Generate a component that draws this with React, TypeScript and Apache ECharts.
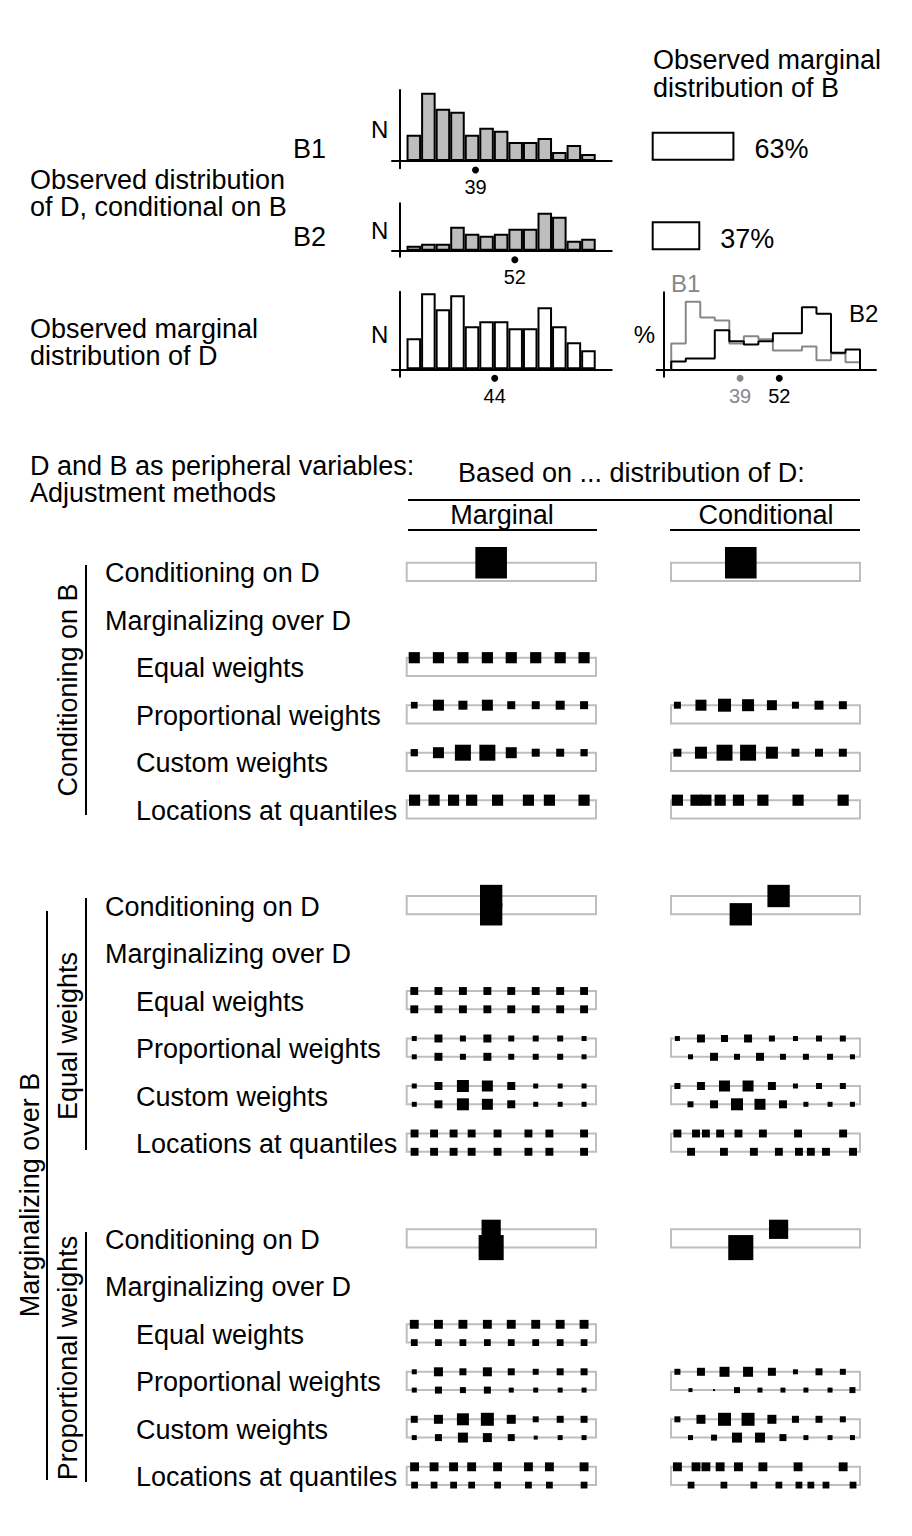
import React, { useEffect, useRef } from "react";
import * as echarts from "echarts";

const FONT = '"Liberation Sans", Arial, sans-serif';

// ---------- data: observed distributions ----------
const BIN_EDGES = [15, 20, 25, 30, 35, 40, 45, 50, 55, 60, 65, 70, 75, 80];
const B1_COUNTS = [26, 68, 52, 49, 26, 33, 30, 19, 19, 23, 9, 16, 7];
const B2_COUNTS = [5, 7, 7, 24, 17, 15, 17, 22, 22, 38, 34, 10, 12];
const D_COUNTS = [31, 76, 60, 74, 43, 48, 48, 41, 41, 62, 43, 27, 19];
const B1_PCT = [6.9, 18.0, 13.8, 13.0, 6.9, 8.8, 8.0, 5.0, 5.0, 6.1, 2.4, 4.2, 1.9];
const B2_PCT = [2.1, 2.9, 2.9, 10.4, 7.5, 6.6, 7.5, 9.6, 9.6, 16.5, 14.8, 4.4, 5.3];
const B_NAMES = ["B1", "B2"];
const B_SHARE = [63, 37];
const MEAN_LABEL = { B1: 39, B2: 52, D: 44 };
const MEAN_AT = { B1: 38.7, B2: 52.2, D: 45.3 };

// ---------- data: adjustment-method locations (D scale) ----------
const POS_MARG = [17.6, 25.9, 34.3, 42.7, 50.9, 59.3, 67.7, 75.9];
const POS_MARG_Q = [17.7, 24.4, 31.1, 37.3, 46.2, 56.8, 64.0, 75.9];
const POS_B1 = [17.2, 25.3, 33.4, 41.5, 49.7, 57.8, 65.9, 74.1];
const POS_B2 = [21.7, 29.8, 37.7, 45.6, 53.5, 61.4, 69.7, 77.4];
const POS_B1_Q = [17.2, 23.6, 27.0, 31.9, 38.2, 46.6, 58.7, 74.2];
const POS_B2_Q = [21.9, 33.2, 43.5, 52.1, 59.0, 63.1, 68.3, 77.6];

// ---------- data: weights (%) ----------
const S1_EQUAL = [12.5, 12.5, 12.5, 12.5, 12.5, 12.5, 12.5, 12.5];
const S1_MARG_PROP = [4.5, 12.1, 8.1, 12.1, 6.4, 6.4, 8.1, 6.4];
const S1_COND_PROP = [4.9, 12.1, 16.9, 14.4, 10, 4.9, 8.1, 6.4];
const S1_MARG_CUSTOM = [5.3, 12.1, 25.6, 25.6, 12.1, 6.4, 6.4, 5.3];
const S1_COND_CUSTOM = [6.4, 14.4, 25.6, 25.6, 14.4, 6.4, 6.4, 6.4];
const S1_QUANT = [12.5, 12.5, 12.5, 12.5, 12.5, 12.5, 12.5, 12.5];

const S2_EQUAL = [6.25, 6.25, 6.25, 6.25, 6.25, 6.25, 6.25, 6.25];
const S2_MARG_PROP = [2.5, 6.4, 3.6, 6.4, 3.6, 3.6, 3.6, 2.5];
const S2_COND_PROP_TOP = [2.5, 6.4, 4.9, 6.4, 3.6, 2.5, 3.6, 3.6];
const S2_COND_PROP_BOT = [2.5, 6.4, 3.6, 6.4, 3.6, 3.6, 3.6, 2.5];
const S2_MARG_CUSTOM = [2.5, 6.4, 14.4, 12.1, 6.4, 2.5, 2.5, 2.5];
const S2_COND_CUSTOM_TOP = [3.6, 6.4, 12.1, 12.1, 6.4, 2.5, 3.6, 3.6];
const S2_COND_CUSTOM_BOT = [3.6, 6.4, 14.4, 12.1, 6.4, 2.5, 2.5, 2.5];
const S2_QUANT = [6.25, 6.25, 6.25, 6.25, 6.25, 6.25, 6.25, 6.25];

const S3_EQUAL_TOP = [7.9, 7.9, 7.9, 7.9, 7.9, 7.9, 7.9, 7.9];
const S3_EQUAL_BOT = [4.6, 4.6, 4.6, 4.6, 4.6, 4.6, 4.6, 4.6];
const S3_MARG_PROP_TOP = [2.5, 8.1, 4.9, 8.1, 4.9, 3.6, 4.9, 4.9];
const S3_MARG_PROP_BOT = [2.5, 4.9, 3.6, 4.9, 2.5, 2.5, 2.5, 2.5];
const S3_COND_PROP_TOP = [3.6, 6.4, 10, 10, 6.4, 2.5, 4.9, 3.6];
const S3_COND_PROP_BOT = [1.6, 0.4, 3.6, 2.5, 2.5, 2.5, 2.5, 3.6];
const S3_MARG_CUSTOM_TOP = [4.9, 8.1, 14.4, 16.9, 8.1, 3.6, 4.9, 4.9];
const S3_MARG_CUSTOM_BOT = [2.5, 4.9, 10, 8.1, 4.9, 1.6, 2.5, 2.5];
const S3_COND_CUSTOM_TOP = [3.6, 8.1, 16.9, 16.9, 8.1, 4.9, 4.9, 3.6];
const S3_COND_CUSTOM_BOT = [2.5, 3.6, 10, 10, 4.9, 2.5, 2.5, 2.5];
const S3_QUANT_TOP = [7.9, 7.9, 7.9, 7.9, 7.9, 7.9, 7.9, 7.9];
const S3_QUANT_BOT = [4.6, 4.6, 4.6, 4.6, 4.6, 4.6, 4.6, 4.6];

// ---------- text ----------
const ROW_LABELS = [
  "Conditioning on D",
  "Marginalizing over D",
  "Equal weights",
  "Proportional weights",
  "Custom weights",
  "Locations at quantiles",
];
const SECTION_LABELS = ["Conditioning on B", "Equal weights", "Proportional weights"];
const OUTER_LABEL = "Marginalizing over B";

type Line = { at: number[]; w: number[]; top: boolean };
type RowSpec = { marg?: Line[]; cond?: Line[] };

const T = true;
const F = false;
const SECTIONS: Record<number, RowSpec>[] = [
  {
    0: { marg: [{ at: [MEAN_LABEL.D], w: [100], top: T }], cond: [{ at: [MEAN_LABEL.B1], w: [100], top: T }] },
    2: { marg: [{ at: POS_MARG, w: S1_EQUAL, top: T }] },
    3: { marg: [{ at: POS_MARG, w: S1_MARG_PROP, top: T }], cond: [{ at: POS_B1, w: S1_COND_PROP, top: T }] },
    4: { marg: [{ at: POS_MARG, w: S1_MARG_CUSTOM, top: T }], cond: [{ at: POS_B1, w: S1_COND_CUSTOM, top: T }] },
    5: { marg: [{ at: POS_MARG_Q, w: S1_QUANT, top: T }], cond: [{ at: POS_B1_Q, w: S1_QUANT, top: T }] },
  },
  {
    0: {
      marg: [{ at: [MEAN_LABEL.D], w: [50], top: T }, { at: [MEAN_LABEL.D], w: [50], top: F }],
      cond: [{ at: [MEAN_LABEL.B2], w: [50], top: T }, { at: [MEAN_LABEL.B1], w: [50], top: F }],
    },
    2: { marg: [{ at: POS_MARG, w: S2_EQUAL, top: T }, { at: POS_MARG, w: S2_EQUAL, top: F }] },
    3: {
      marg: [{ at: POS_MARG, w: S2_MARG_PROP, top: T }, { at: POS_MARG, w: S2_MARG_PROP, top: F }],
      cond: [{ at: POS_B1, w: S2_COND_PROP_TOP, top: T }, { at: POS_B2, w: S2_COND_PROP_BOT, top: F }],
    },
    4: {
      marg: [{ at: POS_MARG, w: S2_MARG_CUSTOM, top: T }, { at: POS_MARG, w: S2_MARG_CUSTOM, top: F }],
      cond: [{ at: POS_B1, w: S2_COND_CUSTOM_TOP, top: T }, { at: POS_B2, w: S2_COND_CUSTOM_BOT, top: F }],
    },
    5: {
      marg: [{ at: POS_MARG_Q, w: S2_QUANT, top: T }, { at: POS_MARG_Q, w: S2_QUANT, top: F }],
      cond: [{ at: POS_B1_Q, w: S2_QUANT, top: T }, { at: POS_B2_Q, w: S2_QUANT, top: F }],
    },
  },
  {
    0: {
      marg: [{ at: [MEAN_LABEL.D], w: [B_SHARE[1]], top: T }, { at: [MEAN_LABEL.D], w: [B_SHARE[0]], top: F }],
      cond: [{ at: [MEAN_LABEL.B2], w: [B_SHARE[1]], top: T }, { at: [MEAN_LABEL.B1], w: [B_SHARE[0]], top: F }],
    },
    2: { marg: [{ at: POS_MARG, w: S3_EQUAL_TOP, top: T }, { at: POS_MARG, w: S3_EQUAL_BOT, top: F }] },
    3: {
      marg: [{ at: POS_MARG, w: S3_MARG_PROP_TOP, top: T }, { at: POS_MARG, w: S3_MARG_PROP_BOT, top: F }],
      cond: [{ at: POS_B1, w: S3_COND_PROP_TOP, top: T }, { at: POS_B2, w: S3_COND_PROP_BOT, top: F }],
    },
    4: {
      marg: [{ at: POS_MARG, w: S3_MARG_CUSTOM_TOP, top: T }, { at: POS_MARG, w: S3_MARG_CUSTOM_BOT, top: F }],
      cond: [{ at: POS_B1, w: S3_COND_CUSTOM_TOP, top: T }, { at: POS_B2, w: S3_COND_CUSTOM_BOT, top: F }],
    },
    5: {
      marg: [{ at: POS_MARG_Q, w: S3_QUANT_TOP, top: T }, { at: POS_MARG_Q, w: S3_QUANT_BOT, top: F }],
      cond: [{ at: POS_B1_Q, w: S3_QUANT_TOP, top: T }, { at: POS_B2_Q, w: S3_QUANT_BOT, top: F }],
    },
  },
];

// ---------- layout ----------
const BIG = 27;
const LINE_H = 27.5;
const HIST_LEFT = 392;
const HIST_W = 219.7;
const X_MIN = 10;
const X_MAX = 85.5;
const BIN_PX = (HIST_W * 5) / (X_MAX - X_MIN);
const ROW0 = 562.7;
const ROW_STEP = 47.5;
const SEC_STEP = 333.3;
const BOX_H = 18.3;
const COL_LEFT = [406.7, 671];
const COL_W = [189.3, 189];
const SQ = 3.16;
const GREY = "#bebebe";
const MID_GREY = "#878787";

function buildOption() {
  const grid: any[] = [];
  const xAxis: any[] = [];
  const yAxis: any[] = [];
  const series: any[] = [];
  const graphic: any[] = [];

  const off = {
    axisTick: { show: false },
    axisLabel: { show: false },
    splitLine: { show: false },
  };
  const blackAxis = { show: true, lineStyle: { color: "#000", width: 2 } };

  const meanDot = (gi: number, items: { at: number; label: number; color: string }[]) => ({
    type: "scatter",
    xAxisIndex: gi,
    yAxisIndex: gi,
    clip: false,
    silent: true,
    z: 5,
    symbol: "circle",
    symbolSize: 7,
    symbolOffset: [0, 9],
    data: items.map((it) => ({
      name: String(it.label),
      value: [it.at, 0],
      itemStyle: { color: it.color, opacity: 1 },
      label: { color: it.color },
    })),
    label: {
      show: true,
      position: "bottom",
      distance: 4,
      formatter: "{b}",
      fontSize: 20,
      fontFamily: FONT,
    },
  });

  const addHist = (
    top: number,
    height: number,
    yMin: number,
    yMax: number,
    counts: number[],
    fill: string,
    at: number,
    label: number
  ) => {
    const gi = grid.length;
    grid.push({ left: HIST_LEFT, top, width: HIST_W, height });
    xAxis.push({
      gridIndex: gi,
      type: "value",
      min: X_MIN,
      max: X_MAX,
      axisLine: { ...blackAxis, onZero: true },
      ...off,
    });
    yAxis.push({
      gridIndex: gi,
      type: "value",
      min: yMin,
      max: yMax,
      offset: -7.3,
      axisLine: { ...blackAxis, onZero: false },
      ...off,
      name: "N",
      nameLocation: "middle",
      nameRotate: 0,
      nameGap: 11,
      nameTextStyle: { fontSize: 24, fontFamily: FONT, color: "#000" },
    });
    series.push({
      type: "bar",
      xAxisIndex: gi,
      yAxisIndex: gi,
      silent: true,
      barWidth: BIN_PX,
      data: counts.map((c, i) => [(BIN_EDGES[i] + BIN_EDGES[i + 1]) / 2, c]),
      itemStyle: { color: fill, borderColor: "#000", borderWidth: 2 },
    });
    series.push(meanDot(gi, [{ at, label, color: "#000" }]));
  };

  addHist(90, 78.3, -7.3, 70.7, B1_COUNTS, GREY, MEAN_AT.B1, MEAN_LABEL.B1);
  addHist(203.3, 53.4, -6, 47.4, B2_COUNTS, GREY, MEAN_AT.B2, MEAN_LABEL.B2);
  addHist(291.7, 85, -7.4, 77.6, D_COUNTS, "#fff", MEAN_AT.D, MEAN_LABEL.D);

  // marginal distribution of B
  {
    const gi = grid.length;
    grid.push({ left: 651.7, top: 101.4, width: 131.3, height: 179.2 });
    xAxis.push({ gridIndex: gi, type: "value", min: 0, max: 100, show: false });
    yAxis.push({ gridIndex: gi, type: "category", data: B_NAMES, inverse: true, show: false });
    series.push({
      type: "bar",
      xAxisIndex: gi,
      yAxisIndex: gi,
      silent: true,
      barWidth: 29,
      data: B_SHARE,
      itemStyle: { color: "#fff", borderColor: "#000", borderWidth: 2 },
      label: {
        show: true,
        position: "right",
        distance: 20,
        offset: [0, 3],
        formatter: "{c}%",
        fontSize: BIG,
        fontFamily: FONT,
        color: "#000",
      },
    });
  }

  // conditional distributions of D in percent
  {
    const gi = grid.length;
    grid.push({ left: 656.7, top: 292.3, width: 219.3, height: 84.4 });
    xAxis.push({
      gridIndex: gi,
      type: "value",
      min: X_MIN,
      max: X_MAX,
      axisLine: { ...blackAxis, onZero: true },
      ...off,
    });
    yAxis.push({
      gridIndex: gi,
      type: "value",
      min: -1.97,
      max: 20.5,
      offset: -7.3,
      axisLine: { ...blackAxis, onZero: false },
      ...off,
      name: "%",
      nameLocation: "middle",
      nameRotate: 0,
      nameGap: 9,
      nameTextStyle: { fontSize: 24, fontFamily: FONT, color: "#000", padding: [8, 0, 0, 0] },
    });
    const step = (pct: number[]) => [
      [BIN_EDGES[0], 0],
      ...pct.map((p, i) => [BIN_EDGES[i], p]),
      [BIN_EDGES[BIN_EDGES.length - 1], pct[pct.length - 1]],
      [BIN_EDGES[BIN_EDGES.length - 1], 0],
    ];
    series.push({
      type: "line",
      xAxisIndex: gi,
      yAxisIndex: gi,
      step: "end",
      symbol: "none",
      silent: true,
      data: step(B1_PCT),
      lineStyle: { color: MID_GREY, width: 2 },
    });
    series.push({
      type: "line",
      xAxisIndex: gi,
      yAxisIndex: gi,
      step: "end",
      symbol: "none",
      silent: true,
      data: step(B2_PCT),
      lineStyle: { color: "#000", width: 2 },
    });
    series.push(
      meanDot(gi, [
        { at: MEAN_AT.B1, label: MEAN_LABEL.B1, color: MID_GREY },
        { at: MEAN_AT.B2, label: MEAN_LABEL.B2, color: "#000" },
      ])
    );
  }

  // adjustment method panels
  SECTIONS.forEach((sec, s) => {
    for (let r = 0; r < 6; r++) {
      const rowTop = ROW0 + s * SEC_STEP + r * ROW_STEP;
      const spec = sec[r];
      if (spec) {
        ([spec.marg, spec.cond] as (Line[] | undefined)[]).forEach((lines, c) => {
          if (!lines) return;
          const gi = grid.length;
          grid.push({
            left: COL_LEFT[c],
            top: rowTop,
            width: COL_W[c],
            height: BOX_H,
            show: true,
            borderColor: GREY,
            borderWidth: 2,
          });
          xAxis.push({ gridIndex: gi, type: "value", min: 15, max: 80, show: false });
          yAxis.push({ gridIndex: gi, type: "value", min: 0, max: 1, show: false });
          lines.forEach((ln) => {
            series.push({
              type: "scatter",
              xAxisIndex: gi,
              yAxisIndex: gi,
              clip: false,
              silent: true,
              symbol: "rect",
              data: ln.at.map((p, i) => [p, ln.top ? 1 : 0, ln.w[i]]),
              symbolSize: (v: number[]) => Math.sqrt(v[2]) * SQ,
              itemStyle: { color: "#000", opacity: 1 },
            });
          });
        });
      }
      graphic.push(txt(ROW_LABELS[r], r < 2 ? 105 : 136, rowTop + 10.5));
    }
  });

  // texts
  graphic.push(
    txt("Observed distribution\nof D, conditional on B", 30, 193.5),
    txt("B1", 293, 149),
    txt("B2", 293, 237),
    txt("Observed marginal\ndistribution of D", 30, 342.5),
    txt("Observed marginal\ndistribution of B", 653, 74),
    txt("B1", 671, 283, { fill: MID_GREY, fontSize: 24 }),
    txt("B2", 849, 313, { fontSize: 24 }),
    txt("D and B as peripheral variables:\nAdjustment methods", 30, 479.5),
    txt("Based on ... distribution of D:", 458, 473),
    txt("Marginal", 502, 515, { align: "center" }),
    txt("Conditional", 766, 515, { align: "center" })
  );
  const rot = (text: string, x: number, y: number) => ({
    ...txt(text, x, y, { align: "center" }),
    rotation: Math.PI / 2,
  });
  graphic.push(
    rot(SECTION_LABELS[0], 68, 690),
    rot(SECTION_LABELS[1], 68, 1036),
    rot(SECTION_LABELS[2], 68, 1358),
    rot(OUTER_LABEL, 30, 1195)
  );
  const ln = (x1: number, y1: number, x2: number, y2: number) => ({
    type: "line",
    silent: true,
    shape: { x1, y1, x2, y2 },
    style: { stroke: "#000", lineWidth: 2 },
  });
  graphic.push(
    ln(408, 500, 860, 500),
    ln(408, 530, 597, 530),
    ln(670, 530, 860, 530),
    ln(86, 565, 86, 815),
    ln(86, 898, 86, 1150),
    ln(86, 1232, 86, 1482),
    ln(47, 911, 47, 1480)
  );

  return {
    animation: false,
    backgroundColor: "#fff",
    grid,
    xAxis,
    yAxis,
    series,
    graphic: { elements: graphic },
  };
}

function txt(text: string, x: number, y: number, extra: any = {}) {
  return {
    type: "text",
    x,
    y,
    silent: true,
    style: {
      text,
      fill: "#000",
      fontSize: BIG,
      fontFamily: FONT,
      lineHeight: LINE_H,
      align: "left",
      verticalAlign: "middle",
      ...extra,
    },
  };
}

export default function App() {
  const ref = useRef<HTMLDivElement>(null);
  useEffect(() => {
    document.body.style.margin = "0";
    const chart = echarts.init(ref.current as HTMLDivElement, null, { renderer: "svg" });
    chart.setOption(buildOption() as any);
    return () => chart.dispose();
  }, []);
  return <div ref={ref} style={{ width: 912, height: 1536 }} />;
}
